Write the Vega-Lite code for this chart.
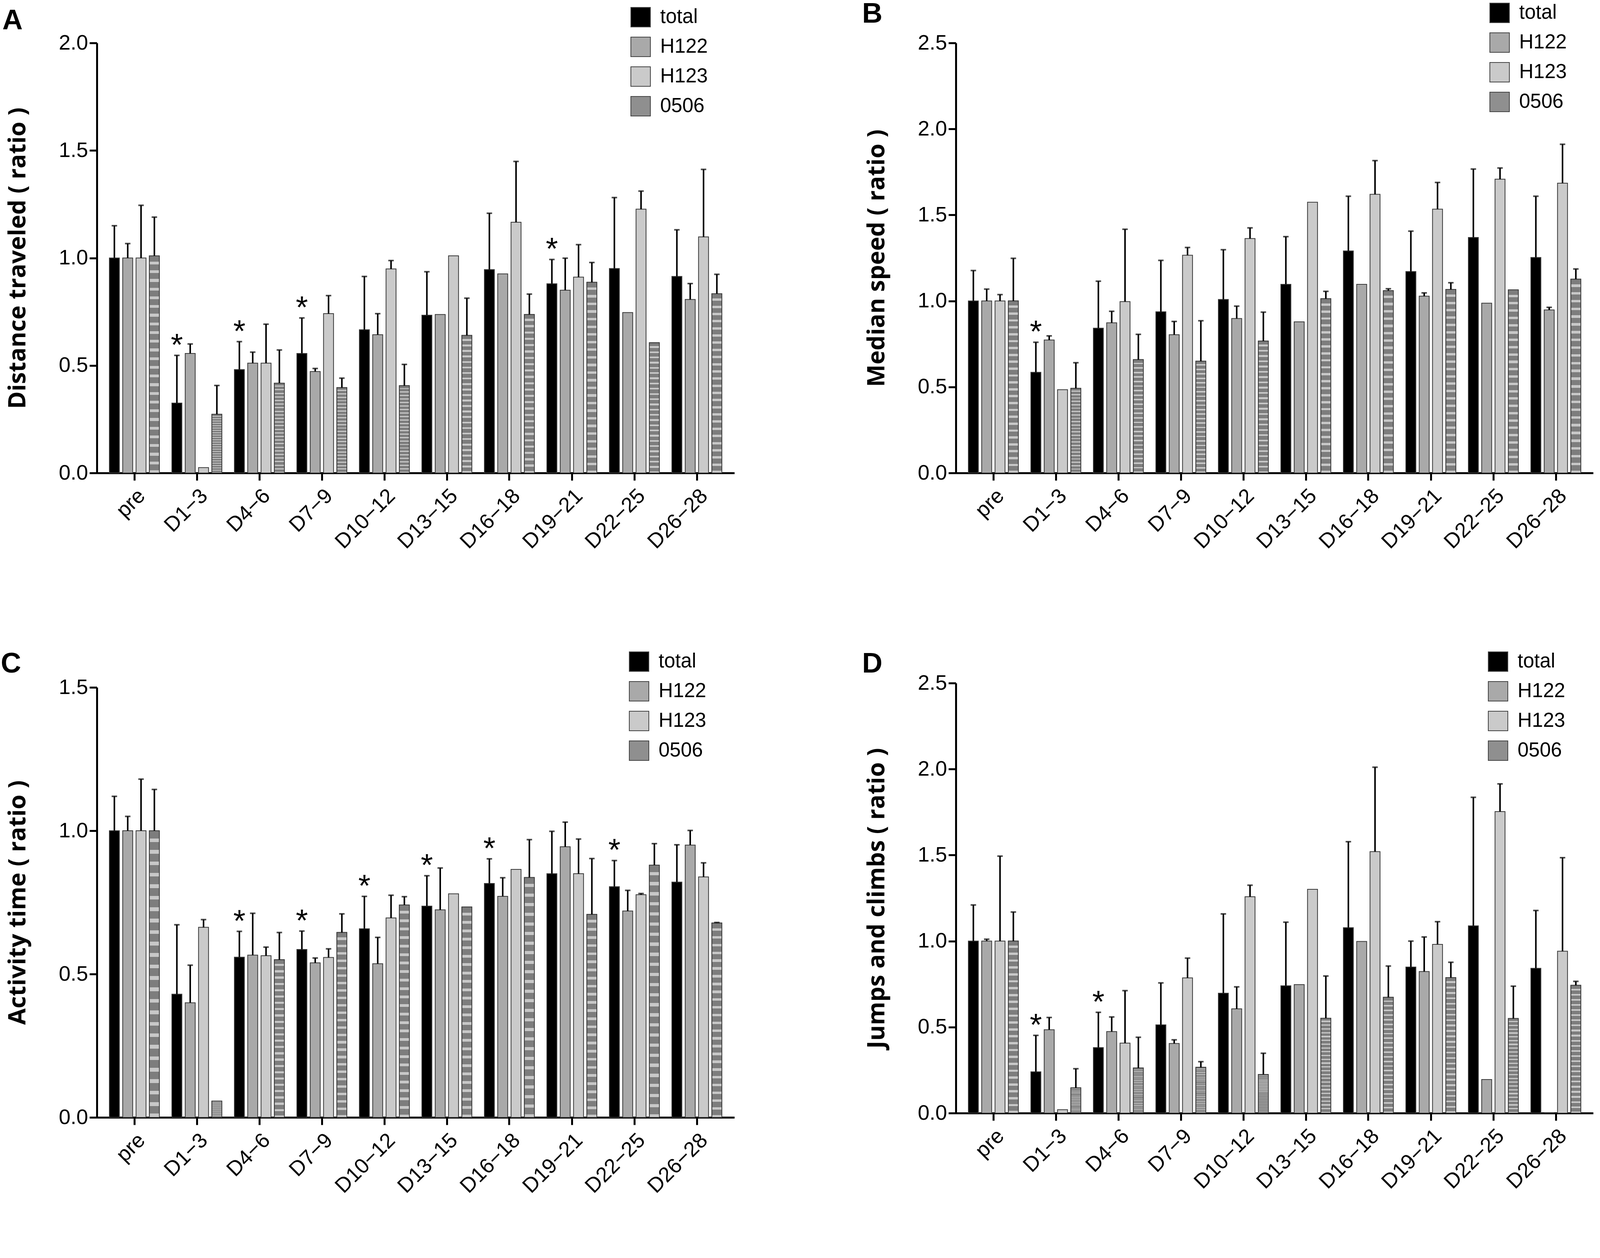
{
  "$schema": "https://vega.github.io/schema/vega-lite/v6.json",
  "background": "white",
  "padding": {"left": 2, "top": 0, "right": 0, "bottom": 0},
  "datasets": {
    "A": [
      {"period": "pre", "group": "total", "mean": 1.00, "upper": 1.15},
      {"period": "pre", "group": "H122", "mean": 1.00, "upper": 1.067},
      {"period": "pre", "group": "H123", "mean": 1.00, "upper": 1.245},
      {"period": "pre", "group": "0506", "mean": 1.01, "upper": 1.19},
      {"period": "D1−3", "group": "total", "mean": 0.325, "upper": 0.547, "sig": "*"},
      {"period": "D1−3", "group": "H122", "mean": 0.556, "upper": 0.60},
      {"period": "D1−3", "group": "H123", "mean": 0.025, "upper": null},
      {"period": "D1−3", "group": "0506", "mean": 0.273, "upper": 0.407},
      {"period": "D4−6", "group": "total", "mean": 0.481, "upper": 0.611, "sig": "*"},
      {"period": "D4−6", "group": "H122", "mean": 0.511, "upper": 0.562},
      {"period": "D4−6", "group": "H123", "mean": 0.511, "upper": 0.692},
      {"period": "D4−6", "group": "0506", "mean": 0.418, "upper": 0.572},
      {"period": "D7−9", "group": "total", "mean": 0.556, "upper": 0.721, "sig": "*"},
      {"period": "D7−9", "group": "H122", "mean": 0.472, "upper": 0.486},
      {"period": "D7−9", "group": "H123", "mean": 0.741, "upper": 0.825},
      {"period": "D7−9", "group": "0506", "mean": 0.397, "upper": 0.441},
      {"period": "D10−12", "group": "total", "mean": 0.666, "upper": 0.914},
      {"period": "D10−12", "group": "H122", "mean": 0.643, "upper": 0.741},
      {"period": "D10−12", "group": "H123", "mean": 0.949, "upper": 0.988},
      {"period": "D10−12", "group": "0506", "mean": 0.406, "upper": 0.505},
      {"period": "D13−15", "group": "total", "mean": 0.734, "upper": 0.936},
      {"period": "D13−15", "group": "H122", "mean": 0.737, "upper": null},
      {"period": "D13−15", "group": "H123", "mean": 1.010, "upper": null},
      {"period": "D13−15", "group": "0506", "mean": 0.640, "upper": 0.813},
      {"period": "D16−18", "group": "total", "mean": 0.946, "upper": 1.208},
      {"period": "D16−18", "group": "H122", "mean": 0.926, "upper": null},
      {"period": "D16−18", "group": "H123", "mean": 1.166, "upper": 1.449},
      {"period": "D16−18", "group": "0506", "mean": 0.737, "upper": 0.832},
      {"period": "D19−21", "group": "total", "mean": 0.880, "upper": 0.993, "sig": "*"},
      {"period": "D19−21", "group": "H122", "mean": 0.850, "upper": 0.999},
      {"period": "D19−21", "group": "H123", "mean": 0.911, "upper": 1.062},
      {"period": "D19−21", "group": "0506", "mean": 0.887, "upper": 0.979},
      {"period": "D22−25", "group": "total", "mean": 0.951, "upper": 1.281},
      {"period": "D22−25", "group": "H122", "mean": 0.746, "upper": null},
      {"period": "D22−25", "group": "H123", "mean": 1.227, "upper": 1.311},
      {"period": "D22−25", "group": "0506", "mean": 0.606, "upper": null},
      {"period": "D26−28", "group": "total", "mean": 0.914, "upper": 1.131},
      {"period": "D26−28", "group": "H122", "mean": 0.807, "upper": 0.881},
      {"period": "D26−28", "group": "H123", "mean": 1.098, "upper": 1.412},
      {"period": "D26−28", "group": "0506", "mean": 0.834, "upper": 0.924}
    ],
    "B": [
      {"period": "pre", "group": "total", "mean": 1.00, "upper": 1.177},
      {"period": "pre", "group": "H122", "mean": 1.00, "upper": 1.069},
      {"period": "pre", "group": "H123", "mean": 1.00, "upper": 1.037},
      {"period": "pre", "group": "0506", "mean": 1.00, "upper": 1.248},
      {"period": "D1−3", "group": "total", "mean": 0.585, "upper": 0.760, "sig": "*"},
      {"period": "D1−3", "group": "H122", "mean": 0.773, "upper": 0.797},
      {"period": "D1−3", "group": "H123", "mean": 0.484, "upper": null},
      {"period": "D1−3", "group": "0506", "mean": 0.492, "upper": 0.641},
      {"period": "D4−6", "group": "total", "mean": 0.842, "upper": 1.115},
      {"period": "D4−6", "group": "H122", "mean": 0.873, "upper": 0.940},
      {"period": "D4−6", "group": "H123", "mean": 0.996, "upper": 1.417},
      {"period": "D4−6", "group": "0506", "mean": 0.659, "upper": 0.806},
      {"period": "D7−9", "group": "total", "mean": 0.937, "upper": 1.236},
      {"period": "D7−9", "group": "H122", "mean": 0.804, "upper": 0.881},
      {"period": "D7−9", "group": "H123", "mean": 1.266, "upper": 1.311},
      {"period": "D7−9", "group": "0506", "mean": 0.650, "upper": 0.885},
      {"period": "D10−12", "group": "total", "mean": 1.009, "upper": 1.298},
      {"period": "D10−12", "group": "H122", "mean": 0.898, "upper": 0.970},
      {"period": "D10−12", "group": "H123", "mean": 1.363, "upper": 1.425},
      {"period": "D10−12", "group": "0506", "mean": 0.767, "upper": 0.935},
      {"period": "D13−15", "group": "total", "mean": 1.097, "upper": 1.374},
      {"period": "D13−15", "group": "H122", "mean": 0.879, "upper": null},
      {"period": "D13−15", "group": "H123", "mean": 1.574, "upper": null},
      {"period": "D13−15", "group": "0506", "mean": 1.013, "upper": 1.056},
      {"period": "D16−18", "group": "total", "mean": 1.291, "upper": 1.609},
      {"period": "D16−18", "group": "H122", "mean": 1.097, "upper": null},
      {"period": "D16−18", "group": "H123", "mean": 1.620, "upper": 1.816},
      {"period": "D16−18", "group": "0506", "mean": 1.060, "upper": 1.071},
      {"period": "D19−21", "group": "total", "mean": 1.171, "upper": 1.406},
      {"period": "D19−21", "group": "H122", "mean": 1.028, "upper": 1.047},
      {"period": "D19−21", "group": "H123", "mean": 1.534, "upper": 1.689},
      {"period": "D19−21", "group": "0506", "mean": 1.067, "upper": 1.106},
      {"period": "D22−25", "group": "total", "mean": 1.369, "upper": 1.767},
      {"period": "D22−25", "group": "H122", "mean": 0.987, "upper": null},
      {"period": "D22−25", "group": "H123", "mean": 1.708, "upper": 1.773},
      {"period": "D22−25", "group": "0506", "mean": 1.065, "upper": null},
      {"period": "D26−28", "group": "total", "mean": 1.253, "upper": 1.609},
      {"period": "D26−28", "group": "H122", "mean": 0.948, "upper": 0.963},
      {"period": "D26−28", "group": "H123", "mean": 1.685, "upper": 1.911},
      {"period": "D26−28", "group": "0506", "mean": 1.127, "upper": 1.186}
    ],
    "C": [
      {"period": "pre", "group": "total", "mean": 1.00, "upper": 1.12},
      {"period": "pre", "group": "H122", "mean": 1.00, "upper": 1.05},
      {"period": "pre", "group": "H123", "mean": 1.00, "upper": 1.18},
      {"period": "pre", "group": "0506", "mean": 1.00, "upper": 1.144},
      {"period": "D1−3", "group": "total", "mean": 0.430, "upper": 0.672},
      {"period": "D1−3", "group": "H122", "mean": 0.400, "upper": 0.531},
      {"period": "D1−3", "group": "H123", "mean": 0.663, "upper": 0.690},
      {"period": "D1−3", "group": "0506", "mean": 0.057, "upper": null},
      {"period": "D4−6", "group": "total", "mean": 0.559, "upper": 0.649, "sig": "*"},
      {"period": "D4−6", "group": "H122", "mean": 0.566, "upper": 0.712},
      {"period": "D4−6", "group": "H123", "mean": 0.564, "upper": 0.594},
      {"period": "D4−6", "group": "0506", "mean": 0.550, "upper": 0.645},
      {"period": "D7−9", "group": "total", "mean": 0.586, "upper": 0.650, "sig": "*"},
      {"period": "D7−9", "group": "H122", "mean": 0.539, "upper": 0.556},
      {"period": "D7−9", "group": "H123", "mean": 0.558, "upper": 0.588},
      {"period": "D7−9", "group": "0506", "mean": 0.645, "upper": 0.710},
      {"period": "D10−12", "group": "total", "mean": 0.658, "upper": 0.771, "sig": "*"},
      {"period": "D10−12", "group": "H122", "mean": 0.536, "upper": 0.628},
      {"period": "D10−12", "group": "H123", "mean": 0.696, "upper": 0.775},
      {"period": "D10−12", "group": "0506", "mean": 0.741, "upper": 0.770},
      {"period": "D13−15", "group": "total", "mean": 0.737, "upper": 0.843, "sig": "*"},
      {"period": "D13−15", "group": "H122", "mean": 0.724, "upper": 0.870},
      {"period": "D13−15", "group": "H123", "mean": 0.780, "upper": null},
      {"period": "D13−15", "group": "0506", "mean": 0.734, "upper": null},
      {"period": "D16−18", "group": "total", "mean": 0.816, "upper": 0.902, "sig": "*"},
      {"period": "D16−18", "group": "H122", "mean": 0.771, "upper": 0.836},
      {"period": "D16−18", "group": "H123", "mean": 0.865, "upper": null},
      {"period": "D16−18", "group": "0506", "mean": 0.837, "upper": 0.969},
      {"period": "D19−21", "group": "total", "mean": 0.850, "upper": 0.998},
      {"period": "D19−21", "group": "H122", "mean": 0.944, "upper": 1.030},
      {"period": "D19−21", "group": "H123", "mean": 0.850, "upper": 0.971},
      {"period": "D19−21", "group": "0506", "mean": 0.708, "upper": 0.903},
      {"period": "D22−25", "group": "total", "mean": 0.805, "upper": 0.896, "sig": "*"},
      {"period": "D22−25", "group": "H122", "mean": 0.720, "upper": 0.792},
      {"period": "D22−25", "group": "H123", "mean": 0.777, "upper": 0.781},
      {"period": "D22−25", "group": "0506", "mean": 0.880, "upper": 0.955},
      {"period": "D26−28", "group": "total", "mean": 0.821, "upper": 0.951},
      {"period": "D26−28", "group": "H122", "mean": 0.950, "upper": 1.001},
      {"period": "D26−28", "group": "H123", "mean": 0.839, "upper": 0.888},
      {"period": "D26−28", "group": "0506", "mean": 0.678, "upper": 0.680}
    ],
    "D": [
      {"period": "pre", "group": "total", "mean": 1.00, "upper": 1.21},
      {"period": "pre", "group": "H122", "mean": 1.00, "upper": 1.011},
      {"period": "pre", "group": "H123", "mean": 1.00, "upper": 1.494},
      {"period": "pre", "group": "0506", "mean": 1.00, "upper": 1.169},
      {"period": "D1−3", "group": "total", "mean": 0.240, "upper": 0.452, "sig": "*"},
      {"period": "D1−3", "group": "H122", "mean": 0.485, "upper": 0.556},
      {"period": "D1−3", "group": "H123", "mean": 0.020, "upper": null},
      {"period": "D1−3", "group": "0506", "mean": 0.147, "upper": 0.258},
      {"period": "D4−6", "group": "total", "mean": 0.381, "upper": 0.586, "sig": "*"},
      {"period": "D4−6", "group": "H122", "mean": 0.474, "upper": 0.559},
      {"period": "D4−6", "group": "H123", "mean": 0.407, "upper": 0.712},
      {"period": "D4−6", "group": "0506", "mean": 0.262, "upper": 0.441},
      {"period": "D7−9", "group": "total", "mean": 0.513, "upper": 0.757},
      {"period": "D7−9", "group": "H122", "mean": 0.405, "upper": 0.426},
      {"period": "D7−9", "group": "H123", "mean": 0.786, "upper": 0.901},
      {"period": "D7−9", "group": "0506", "mean": 0.266, "upper": 0.299},
      {"period": "D10−12", "group": "total", "mean": 0.697, "upper": 1.158},
      {"period": "D10−12", "group": "H122", "mean": 0.606, "upper": 0.734},
      {"period": "D10−12", "group": "H123", "mean": 1.258, "upper": 1.325},
      {"period": "D10−12", "group": "0506", "mean": 0.225, "upper": 0.348},
      {"period": "D13−15", "group": "total", "mean": 0.740, "upper": 1.110},
      {"period": "D13−15", "group": "H122", "mean": 0.747, "upper": null},
      {"period": "D13−15", "group": "H123", "mean": 1.301, "upper": null},
      {"period": "D13−15", "group": "0506", "mean": 0.552, "upper": 0.797},
      {"period": "D16−18", "group": "total", "mean": 1.078, "upper": 1.578},
      {"period": "D16−18", "group": "H122", "mean": 0.998, "upper": null},
      {"period": "D16−18", "group": "H123", "mean": 1.520, "upper": 2.011},
      {"period": "D16−18", "group": "0506", "mean": 0.673, "upper": 0.855},
      {"period": "D19−21", "group": "total", "mean": 0.849, "upper": 1.000},
      {"period": "D19−21", "group": "H122", "mean": 0.823, "upper": 1.024},
      {"period": "D19−21", "group": "H123", "mean": 0.981, "upper": 1.113},
      {"period": "D19−21", "group": "0506", "mean": 0.788, "upper": 0.877},
      {"period": "D22−25", "group": "total", "mean": 1.089, "upper": 1.836},
      {"period": "D22−25", "group": "H122", "mean": 0.195, "upper": null},
      {"period": "D22−25", "group": "H123", "mean": 1.753, "upper": 1.914},
      {"period": "D22−25", "group": "0506", "mean": 0.550, "upper": 0.738},
      {"period": "D26−28", "group": "total", "mean": 0.842, "upper": 1.178},
      {"period": "D26−28", "group": "H122", "mean": 0.0, "upper": null},
      {"period": "D26−28", "group": "H123", "mean": 0.941, "upper": 1.485},
      {"period": "D26−28", "group": "0506", "mean": 0.743, "upper": 0.766}
    ]
  },
  "columns": 2,
  "align": "none",
  "spacing": {"row": 248, "column": 327},
  "concat": [
    {
      "data": {"name": "A"},
      "width": 1632,
      "height": 1101,
      "title": {"text": "A", "dx": -242, "offset": -72},
      "encoding": {
        "x": {"field": "period", "type": "nominal", "sort": null, "title": null},
        "xOffset": {"field": "group", "type": "nominal", "sort": ["total", "H122", "H123", "0506"]}
      },
      "layer": [
        {
          "mark": {"type": "bar", "stroke": "#3a3a3a", "strokeWidth": 2},
          "encoding": {
            "y": {"field": "mean", "type": "quantitative", "title": "Distance traveled ( ratio )", "scale": {"domain": [0, 2]}, "axis": {"values": [0, 0.5, 1, 1.5, 2]}},
            "fill": {"field": "group", "type": "nominal", "scale": {"domain": ["total", "H122", "H123", "0506"], "range": ["#000000", "#a9a9a9", "#cacaca", "#8f8f8f"]}, "legend": {"legendX": 1366, "legendY": -92}}
          }
        },
        {
          "transform": [{"filter": "datum.group === '0506'"}],
          "mark": {"type": "bar", "stroke": "#3a3a3a", "strokeWidth": 2, "fill": {"gradient": "linear", "x1": 0, "y1": 0, "x2": 0, "y2": 1, "stops": [
            {"offset": 0, "color": "#7d7d7d"}, {"offset": 0.027, "color": "#7d7d7d"}, {"offset": 0.027, "color": "#c8c8c8"}, {"offset": 0.04, "color": "#c8c8c8"},
            {"offset": 0.04, "color": "#7d7d7d"}, {"offset": 0.067, "color": "#7d7d7d"}, {"offset": 0.067, "color": "#c8c8c8"}, {"offset": 0.08, "color": "#c8c8c8"},
            {"offset": 0.08, "color": "#7d7d7d"}, {"offset": 0.107, "color": "#7d7d7d"}, {"offset": 0.107, "color": "#c8c8c8"}, {"offset": 0.12, "color": "#c8c8c8"},
            {"offset": 0.12, "color": "#7d7d7d"}, {"offset": 0.147, "color": "#7d7d7d"}, {"offset": 0.147, "color": "#c8c8c8"}, {"offset": 0.16, "color": "#c8c8c8"},
            {"offset": 0.16, "color": "#7d7d7d"}, {"offset": 0.187, "color": "#7d7d7d"}, {"offset": 0.187, "color": "#c8c8c8"}, {"offset": 0.2, "color": "#c8c8c8"},
            {"offset": 0.2, "color": "#7d7d7d"}, {"offset": 0.227, "color": "#7d7d7d"}, {"offset": 0.227, "color": "#c8c8c8"}, {"offset": 0.24, "color": "#c8c8c8"},
            {"offset": 0.24, "color": "#7d7d7d"}, {"offset": 0.267, "color": "#7d7d7d"}, {"offset": 0.267, "color": "#c8c8c8"}, {"offset": 0.28, "color": "#c8c8c8"},
            {"offset": 0.28, "color": "#7d7d7d"}, {"offset": 0.307, "color": "#7d7d7d"}, {"offset": 0.307, "color": "#c8c8c8"}, {"offset": 0.32, "color": "#c8c8c8"},
            {"offset": 0.32, "color": "#7d7d7d"}, {"offset": 0.347, "color": "#7d7d7d"}, {"offset": 0.347, "color": "#c8c8c8"}, {"offset": 0.36, "color": "#c8c8c8"},
            {"offset": 0.36, "color": "#7d7d7d"}, {"offset": 0.387, "color": "#7d7d7d"}, {"offset": 0.387, "color": "#c8c8c8"}, {"offset": 0.4, "color": "#c8c8c8"},
            {"offset": 0.4, "color": "#7d7d7d"}, {"offset": 0.427, "color": "#7d7d7d"}, {"offset": 0.427, "color": "#c8c8c8"}, {"offset": 0.44, "color": "#c8c8c8"},
            {"offset": 0.44, "color": "#7d7d7d"}, {"offset": 0.467, "color": "#7d7d7d"}, {"offset": 0.467, "color": "#c8c8c8"}, {"offset": 0.48, "color": "#c8c8c8"},
            {"offset": 0.48, "color": "#7d7d7d"}, {"offset": 0.507, "color": "#7d7d7d"}, {"offset": 0.507, "color": "#c8c8c8"}, {"offset": 0.52, "color": "#c8c8c8"},
            {"offset": 0.52, "color": "#7d7d7d"}, {"offset": 0.547, "color": "#7d7d7d"}, {"offset": 0.547, "color": "#c8c8c8"}, {"offset": 0.56, "color": "#c8c8c8"},
            {"offset": 0.56, "color": "#7d7d7d"}, {"offset": 0.587, "color": "#7d7d7d"}, {"offset": 0.587, "color": "#c8c8c8"}, {"offset": 0.6, "color": "#c8c8c8"},
            {"offset": 0.6, "color": "#7d7d7d"}, {"offset": 0.627, "color": "#7d7d7d"}, {"offset": 0.627, "color": "#c8c8c8"}, {"offset": 0.64, "color": "#c8c8c8"},
            {"offset": 0.64, "color": "#7d7d7d"}, {"offset": 0.667, "color": "#7d7d7d"}, {"offset": 0.667, "color": "#c8c8c8"}, {"offset": 0.68, "color": "#c8c8c8"},
            {"offset": 0.68, "color": "#7d7d7d"}, {"offset": 0.707, "color": "#7d7d7d"}, {"offset": 0.707, "color": "#c8c8c8"}, {"offset": 0.72, "color": "#c8c8c8"},
            {"offset": 0.72, "color": "#7d7d7d"}, {"offset": 0.747, "color": "#7d7d7d"}, {"offset": 0.747, "color": "#c8c8c8"}, {"offset": 0.76, "color": "#c8c8c8"},
            {"offset": 0.76, "color": "#7d7d7d"}, {"offset": 0.787, "color": "#7d7d7d"}, {"offset": 0.787, "color": "#c8c8c8"}, {"offset": 0.8, "color": "#c8c8c8"},
            {"offset": 0.8, "color": "#7d7d7d"}, {"offset": 0.827, "color": "#7d7d7d"}, {"offset": 0.827, "color": "#c8c8c8"}, {"offset": 0.84, "color": "#c8c8c8"},
            {"offset": 0.84, "color": "#7d7d7d"}, {"offset": 0.867, "color": "#7d7d7d"}, {"offset": 0.867, "color": "#c8c8c8"}, {"offset": 0.88, "color": "#c8c8c8"},
            {"offset": 0.88, "color": "#7d7d7d"}, {"offset": 0.907, "color": "#7d7d7d"}, {"offset": 0.907, "color": "#c8c8c8"}, {"offset": 0.92, "color": "#c8c8c8"},
            {"offset": 0.92, "color": "#7d7d7d"}, {"offset": 0.947, "color": "#7d7d7d"}, {"offset": 0.947, "color": "#c8c8c8"}, {"offset": 0.96, "color": "#c8c8c8"},
            {"offset": 0.96, "color": "#7d7d7d"}, {"offset": 0.987, "color": "#7d7d7d"}, {"offset": 0.987, "color": "#c8c8c8"}, {"offset": 1, "color": "#c8c8c8"}
          ]}},
          "encoding": {
            "y": {"field": "mean", "type": "quantitative", "title": "Distance traveled ( ratio )", "scale": {"domain": [0, 2]}}
          }
        },
        {
          "transform": [{"filter": "isValid(datum.upper)"}],
          "mark": {"type": "rule", "color": "black", "strokeWidth": 4},
          "encoding": {
            "y": {"field": "mean", "type": "quantitative", "title": "Distance traveled ( ratio )", "scale": {"domain": [0, 2]}},
            "y2": {"field": "upper"}
          }
        },
        {
          "transform": [{"filter": "isValid(datum.upper)"}],
          "mark": {"type": "tick", "orient": "horizontal", "color": "black", "size": 14, "thickness": 4},
          "encoding": {
            "y": {"field": "upper", "type": "quantitative", "title": "Distance traveled ( ratio )", "scale": {"domain": [0, 2]}}
          }
        },
        {
          "transform": [{"filter": "datum.sig"}],
          "mark": {"type": "text", "color": "black", "fontSize": 80, "baseline": "alphabetic", "dy": 0},
          "encoding": {
            "y": {"field": "upper", "type": "quantitative", "title": "Distance traveled ( ratio )", "scale": {"domain": [0, 2]}},
            "text": {"field": "sig"}
          }
        }
      ]
    },
    {
      "data": {"name": "B"},
      "width": 1632,
      "height": 1101,
      "title": {"text": "B", "dx": -240, "offset": -66},
      "encoding": {
        "x": {"field": "period", "type": "nominal", "sort": null, "title": null},
        "xOffset": {"field": "group", "type": "nominal", "sort": ["total", "H122", "H123", "0506"]}
      },
      "layer": [
        {
          "mark": {"type": "bar", "stroke": "#3a3a3a", "strokeWidth": 2},
          "encoding": {
            "y": {"field": "mean", "type": "quantitative", "title": "Median speed ( ratio )", "scale": {"domain": [0, 2.5]}, "axis": {"values": [0, 0.5, 1, 1.5, 2, 2.5]}},
            "fill": {"field": "group", "type": "nominal", "scale": {"domain": ["total", "H122", "H123", "0506"], "range": ["#000000", "#a9a9a9", "#cacaca", "#8f8f8f"]}, "legend": {"legendX": 1366, "legendY": -103}}
          }
        },
        {
          "transform": [{"filter": "datum.group === '0506'"}],
          "mark": {"type": "bar", "stroke": "#3a3a3a", "strokeWidth": 2, "fill": {"gradient": "linear", "x1": 0, "y1": 0, "x2": 0, "y2": 1, "stops": [
            {"offset": 0, "color": "#7d7d7d"}, {"offset": 0.027, "color": "#7d7d7d"}, {"offset": 0.027, "color": "#c8c8c8"}, {"offset": 0.04, "color": "#c8c8c8"},
            {"offset": 0.04, "color": "#7d7d7d"}, {"offset": 0.067, "color": "#7d7d7d"}, {"offset": 0.067, "color": "#c8c8c8"}, {"offset": 0.08, "color": "#c8c8c8"},
            {"offset": 0.08, "color": "#7d7d7d"}, {"offset": 0.107, "color": "#7d7d7d"}, {"offset": 0.107, "color": "#c8c8c8"}, {"offset": 0.12, "color": "#c8c8c8"},
            {"offset": 0.12, "color": "#7d7d7d"}, {"offset": 0.147, "color": "#7d7d7d"}, {"offset": 0.147, "color": "#c8c8c8"}, {"offset": 0.16, "color": "#c8c8c8"},
            {"offset": 0.16, "color": "#7d7d7d"}, {"offset": 0.187, "color": "#7d7d7d"}, {"offset": 0.187, "color": "#c8c8c8"}, {"offset": 0.2, "color": "#c8c8c8"},
            {"offset": 0.2, "color": "#7d7d7d"}, {"offset": 0.227, "color": "#7d7d7d"}, {"offset": 0.227, "color": "#c8c8c8"}, {"offset": 0.24, "color": "#c8c8c8"},
            {"offset": 0.24, "color": "#7d7d7d"}, {"offset": 0.267, "color": "#7d7d7d"}, {"offset": 0.267, "color": "#c8c8c8"}, {"offset": 0.28, "color": "#c8c8c8"},
            {"offset": 0.28, "color": "#7d7d7d"}, {"offset": 0.307, "color": "#7d7d7d"}, {"offset": 0.307, "color": "#c8c8c8"}, {"offset": 0.32, "color": "#c8c8c8"},
            {"offset": 0.32, "color": "#7d7d7d"}, {"offset": 0.347, "color": "#7d7d7d"}, {"offset": 0.347, "color": "#c8c8c8"}, {"offset": 0.36, "color": "#c8c8c8"},
            {"offset": 0.36, "color": "#7d7d7d"}, {"offset": 0.387, "color": "#7d7d7d"}, {"offset": 0.387, "color": "#c8c8c8"}, {"offset": 0.4, "color": "#c8c8c8"},
            {"offset": 0.4, "color": "#7d7d7d"}, {"offset": 0.427, "color": "#7d7d7d"}, {"offset": 0.427, "color": "#c8c8c8"}, {"offset": 0.44, "color": "#c8c8c8"},
            {"offset": 0.44, "color": "#7d7d7d"}, {"offset": 0.467, "color": "#7d7d7d"}, {"offset": 0.467, "color": "#c8c8c8"}, {"offset": 0.48, "color": "#c8c8c8"},
            {"offset": 0.48, "color": "#7d7d7d"}, {"offset": 0.507, "color": "#7d7d7d"}, {"offset": 0.507, "color": "#c8c8c8"}, {"offset": 0.52, "color": "#c8c8c8"},
            {"offset": 0.52, "color": "#7d7d7d"}, {"offset": 0.547, "color": "#7d7d7d"}, {"offset": 0.547, "color": "#c8c8c8"}, {"offset": 0.56, "color": "#c8c8c8"},
            {"offset": 0.56, "color": "#7d7d7d"}, {"offset": 0.587, "color": "#7d7d7d"}, {"offset": 0.587, "color": "#c8c8c8"}, {"offset": 0.6, "color": "#c8c8c8"},
            {"offset": 0.6, "color": "#7d7d7d"}, {"offset": 0.627, "color": "#7d7d7d"}, {"offset": 0.627, "color": "#c8c8c8"}, {"offset": 0.64, "color": "#c8c8c8"},
            {"offset": 0.64, "color": "#7d7d7d"}, {"offset": 0.667, "color": "#7d7d7d"}, {"offset": 0.667, "color": "#c8c8c8"}, {"offset": 0.68, "color": "#c8c8c8"},
            {"offset": 0.68, "color": "#7d7d7d"}, {"offset": 0.707, "color": "#7d7d7d"}, {"offset": 0.707, "color": "#c8c8c8"}, {"offset": 0.72, "color": "#c8c8c8"},
            {"offset": 0.72, "color": "#7d7d7d"}, {"offset": 0.747, "color": "#7d7d7d"}, {"offset": 0.747, "color": "#c8c8c8"}, {"offset": 0.76, "color": "#c8c8c8"},
            {"offset": 0.76, "color": "#7d7d7d"}, {"offset": 0.787, "color": "#7d7d7d"}, {"offset": 0.787, "color": "#c8c8c8"}, {"offset": 0.8, "color": "#c8c8c8"},
            {"offset": 0.8, "color": "#7d7d7d"}, {"offset": 0.827, "color": "#7d7d7d"}, {"offset": 0.827, "color": "#c8c8c8"}, {"offset": 0.84, "color": "#c8c8c8"},
            {"offset": 0.84, "color": "#7d7d7d"}, {"offset": 0.867, "color": "#7d7d7d"}, {"offset": 0.867, "color": "#c8c8c8"}, {"offset": 0.88, "color": "#c8c8c8"},
            {"offset": 0.88, "color": "#7d7d7d"}, {"offset": 0.907, "color": "#7d7d7d"}, {"offset": 0.907, "color": "#c8c8c8"}, {"offset": 0.92, "color": "#c8c8c8"},
            {"offset": 0.92, "color": "#7d7d7d"}, {"offset": 0.947, "color": "#7d7d7d"}, {"offset": 0.947, "color": "#c8c8c8"}, {"offset": 0.96, "color": "#c8c8c8"},
            {"offset": 0.96, "color": "#7d7d7d"}, {"offset": 0.987, "color": "#7d7d7d"}, {"offset": 0.987, "color": "#c8c8c8"}, {"offset": 1, "color": "#c8c8c8"}
          ]}},
          "encoding": {
            "y": {"field": "mean", "type": "quantitative", "title": "Median speed ( ratio )", "scale": {"domain": [0, 2.5]}}
          }
        },
        {
          "transform": [{"filter": "isValid(datum.upper)"}],
          "mark": {"type": "rule", "color": "black", "strokeWidth": 4},
          "encoding": {
            "y": {"field": "mean", "type": "quantitative", "title": "Median speed ( ratio )", "scale": {"domain": [0, 2.5]}},
            "y2": {"field": "upper"}
          }
        },
        {
          "transform": [{"filter": "isValid(datum.upper)"}],
          "mark": {"type": "tick", "orient": "horizontal", "color": "black", "size": 14, "thickness": 4},
          "encoding": {
            "y": {"field": "upper", "type": "quantitative", "title": "Median speed ( ratio )", "scale": {"domain": [0, 2.5]}}
          }
        },
        {
          "transform": [{"filter": "datum.sig"}],
          "mark": {"type": "text", "color": "black", "fontSize": 80, "baseline": "alphabetic", "dy": 0},
          "encoding": {
            "y": {"field": "upper", "type": "quantitative", "title": "Median speed ( ratio )", "scale": {"domain": [0, 2.5]}},
            "text": {"field": "sig"}
          }
        }
      ]
    },
    {
      "data": {"name": "C"},
      "width": 1632,
      "height": 1101,
      "title": {"text": "C", "dx": -246, "offset": -69},
      "encoding": {
        "x": {"field": "period", "type": "nominal", "sort": null, "title": null},
        "xOffset": {"field": "group", "type": "nominal", "sort": ["total", "H122", "H123", "0506"]}
      },
      "layer": [
        {
          "mark": {"type": "bar", "stroke": "#3a3a3a", "strokeWidth": 2},
          "encoding": {
            "y": {"field": "mean", "type": "quantitative", "title": "Activity time ( ratio )", "scale": {"domain": [0, 1.5]}, "axis": {"values": [0, 0.5, 1, 1.5]}},
            "fill": {"field": "group", "type": "nominal", "scale": {"domain": ["total", "H122", "H123", "0506"], "range": ["#000000", "#a9a9a9", "#cacaca", "#8f8f8f"]}, "legend": {"legendX": 1362, "legendY": -92}}
          }
        },
        {
          "transform": [{"filter": "datum.group === '0506'"}],
          "mark": {"type": "bar", "stroke": "#3a3a3a", "strokeWidth": 2, "fill": {"gradient": "linear", "x1": 0, "y1": 0, "x2": 0, "y2": 1, "stops": [
            {"offset": 0, "color": "#7d7d7d"}, {"offset": 0.027, "color": "#7d7d7d"}, {"offset": 0.027, "color": "#c8c8c8"}, {"offset": 0.04, "color": "#c8c8c8"},
            {"offset": 0.04, "color": "#7d7d7d"}, {"offset": 0.067, "color": "#7d7d7d"}, {"offset": 0.067, "color": "#c8c8c8"}, {"offset": 0.08, "color": "#c8c8c8"},
            {"offset": 0.08, "color": "#7d7d7d"}, {"offset": 0.107, "color": "#7d7d7d"}, {"offset": 0.107, "color": "#c8c8c8"}, {"offset": 0.12, "color": "#c8c8c8"},
            {"offset": 0.12, "color": "#7d7d7d"}, {"offset": 0.147, "color": "#7d7d7d"}, {"offset": 0.147, "color": "#c8c8c8"}, {"offset": 0.16, "color": "#c8c8c8"},
            {"offset": 0.16, "color": "#7d7d7d"}, {"offset": 0.187, "color": "#7d7d7d"}, {"offset": 0.187, "color": "#c8c8c8"}, {"offset": 0.2, "color": "#c8c8c8"},
            {"offset": 0.2, "color": "#7d7d7d"}, {"offset": 0.227, "color": "#7d7d7d"}, {"offset": 0.227, "color": "#c8c8c8"}, {"offset": 0.24, "color": "#c8c8c8"},
            {"offset": 0.24, "color": "#7d7d7d"}, {"offset": 0.267, "color": "#7d7d7d"}, {"offset": 0.267, "color": "#c8c8c8"}, {"offset": 0.28, "color": "#c8c8c8"},
            {"offset": 0.28, "color": "#7d7d7d"}, {"offset": 0.307, "color": "#7d7d7d"}, {"offset": 0.307, "color": "#c8c8c8"}, {"offset": 0.32, "color": "#c8c8c8"},
            {"offset": 0.32, "color": "#7d7d7d"}, {"offset": 0.347, "color": "#7d7d7d"}, {"offset": 0.347, "color": "#c8c8c8"}, {"offset": 0.36, "color": "#c8c8c8"},
            {"offset": 0.36, "color": "#7d7d7d"}, {"offset": 0.387, "color": "#7d7d7d"}, {"offset": 0.387, "color": "#c8c8c8"}, {"offset": 0.4, "color": "#c8c8c8"},
            {"offset": 0.4, "color": "#7d7d7d"}, {"offset": 0.427, "color": "#7d7d7d"}, {"offset": 0.427, "color": "#c8c8c8"}, {"offset": 0.44, "color": "#c8c8c8"},
            {"offset": 0.44, "color": "#7d7d7d"}, {"offset": 0.467, "color": "#7d7d7d"}, {"offset": 0.467, "color": "#c8c8c8"}, {"offset": 0.48, "color": "#c8c8c8"},
            {"offset": 0.48, "color": "#7d7d7d"}, {"offset": 0.507, "color": "#7d7d7d"}, {"offset": 0.507, "color": "#c8c8c8"}, {"offset": 0.52, "color": "#c8c8c8"},
            {"offset": 0.52, "color": "#7d7d7d"}, {"offset": 0.547, "color": "#7d7d7d"}, {"offset": 0.547, "color": "#c8c8c8"}, {"offset": 0.56, "color": "#c8c8c8"},
            {"offset": 0.56, "color": "#7d7d7d"}, {"offset": 0.587, "color": "#7d7d7d"}, {"offset": 0.587, "color": "#c8c8c8"}, {"offset": 0.6, "color": "#c8c8c8"},
            {"offset": 0.6, "color": "#7d7d7d"}, {"offset": 0.627, "color": "#7d7d7d"}, {"offset": 0.627, "color": "#c8c8c8"}, {"offset": 0.64, "color": "#c8c8c8"},
            {"offset": 0.64, "color": "#7d7d7d"}, {"offset": 0.667, "color": "#7d7d7d"}, {"offset": 0.667, "color": "#c8c8c8"}, {"offset": 0.68, "color": "#c8c8c8"},
            {"offset": 0.68, "color": "#7d7d7d"}, {"offset": 0.707, "color": "#7d7d7d"}, {"offset": 0.707, "color": "#c8c8c8"}, {"offset": 0.72, "color": "#c8c8c8"},
            {"offset": 0.72, "color": "#7d7d7d"}, {"offset": 0.747, "color": "#7d7d7d"}, {"offset": 0.747, "color": "#c8c8c8"}, {"offset": 0.76, "color": "#c8c8c8"},
            {"offset": 0.76, "color": "#7d7d7d"}, {"offset": 0.787, "color": "#7d7d7d"}, {"offset": 0.787, "color": "#c8c8c8"}, {"offset": 0.8, "color": "#c8c8c8"},
            {"offset": 0.8, "color": "#7d7d7d"}, {"offset": 0.827, "color": "#7d7d7d"}, {"offset": 0.827, "color": "#c8c8c8"}, {"offset": 0.84, "color": "#c8c8c8"},
            {"offset": 0.84, "color": "#7d7d7d"}, {"offset": 0.867, "color": "#7d7d7d"}, {"offset": 0.867, "color": "#c8c8c8"}, {"offset": 0.88, "color": "#c8c8c8"},
            {"offset": 0.88, "color": "#7d7d7d"}, {"offset": 0.907, "color": "#7d7d7d"}, {"offset": 0.907, "color": "#c8c8c8"}, {"offset": 0.92, "color": "#c8c8c8"},
            {"offset": 0.92, "color": "#7d7d7d"}, {"offset": 0.947, "color": "#7d7d7d"}, {"offset": 0.947, "color": "#c8c8c8"}, {"offset": 0.96, "color": "#c8c8c8"},
            {"offset": 0.96, "color": "#7d7d7d"}, {"offset": 0.987, "color": "#7d7d7d"}, {"offset": 0.987, "color": "#c8c8c8"}, {"offset": 1, "color": "#c8c8c8"}
          ]}},
          "encoding": {
            "y": {"field": "mean", "type": "quantitative", "title": "Activity time ( ratio )", "scale": {"domain": [0, 1.5]}}
          }
        },
        {
          "transform": [{"filter": "isValid(datum.upper)"}],
          "mark": {"type": "rule", "color": "black", "strokeWidth": 4},
          "encoding": {
            "y": {"field": "mean", "type": "quantitative", "title": "Activity time ( ratio )", "scale": {"domain": [0, 1.5]}},
            "y2": {"field": "upper"}
          }
        },
        {
          "transform": [{"filter": "isValid(datum.upper)"}],
          "mark": {"type": "tick", "orient": "horizontal", "color": "black", "size": 14, "thickness": 4},
          "encoding": {
            "y": {"field": "upper", "type": "quantitative", "title": "Activity time ( ratio )", "scale": {"domain": [0, 1.5]}}
          }
        },
        {
          "transform": [{"filter": "datum.sig"}],
          "mark": {"type": "text", "color": "black", "fontSize": 80, "baseline": "alphabetic", "dy": 0},
          "encoding": {
            "y": {"field": "upper", "type": "quantitative", "title": "Activity time ( ratio )", "scale": {"domain": [0, 1.5]}},
            "text": {"field": "sig"}
          }
        }
      ]
    },
    {
      "data": {"name": "D"},
      "width": 1632,
      "height": 1101,
      "title": {"text": "D", "dx": -240, "offset": -69},
      "encoding": {
        "x": {"field": "period", "type": "nominal", "sort": null, "title": null},
        "xOffset": {"field": "group", "type": "nominal", "sort": ["total", "H122", "H123", "0506"]}
      },
      "layer": [
        {
          "mark": {"type": "bar", "stroke": "#3a3a3a", "strokeWidth": 2},
          "encoding": {
            "y": {"field": "mean", "type": "quantitative", "title": "Jumps and climbs ( ratio )", "scale": {"domain": [0, 2.5]}, "axis": {"values": [0, 0.5, 1, 1.5, 2, 2.5]}},
            "fill": {"field": "group", "type": "nominal", "scale": {"domain": ["total", "H122", "H123", "0506"], "range": ["#000000", "#a9a9a9", "#cacaca", "#8f8f8f"]}, "legend": {"legendX": 1362, "legendY": -81}}
          }
        },
        {
          "transform": [{"filter": "datum.group === '0506'"}],
          "mark": {"type": "bar", "stroke": "#3a3a3a", "strokeWidth": 2, "fill": {"gradient": "linear", "x1": 0, "y1": 0, "x2": 0, "y2": 1, "stops": [
            {"offset": 0, "color": "#7d7d7d"}, {"offset": 0.027, "color": "#7d7d7d"}, {"offset": 0.027, "color": "#c8c8c8"}, {"offset": 0.04, "color": "#c8c8c8"},
            {"offset": 0.04, "color": "#7d7d7d"}, {"offset": 0.067, "color": "#7d7d7d"}, {"offset": 0.067, "color": "#c8c8c8"}, {"offset": 0.08, "color": "#c8c8c8"},
            {"offset": 0.08, "color": "#7d7d7d"}, {"offset": 0.107, "color": "#7d7d7d"}, {"offset": 0.107, "color": "#c8c8c8"}, {"offset": 0.12, "color": "#c8c8c8"},
            {"offset": 0.12, "color": "#7d7d7d"}, {"offset": 0.147, "color": "#7d7d7d"}, {"offset": 0.147, "color": "#c8c8c8"}, {"offset": 0.16, "color": "#c8c8c8"},
            {"offset": 0.16, "color": "#7d7d7d"}, {"offset": 0.187, "color": "#7d7d7d"}, {"offset": 0.187, "color": "#c8c8c8"}, {"offset": 0.2, "color": "#c8c8c8"},
            {"offset": 0.2, "color": "#7d7d7d"}, {"offset": 0.227, "color": "#7d7d7d"}, {"offset": 0.227, "color": "#c8c8c8"}, {"offset": 0.24, "color": "#c8c8c8"},
            {"offset": 0.24, "color": "#7d7d7d"}, {"offset": 0.267, "color": "#7d7d7d"}, {"offset": 0.267, "color": "#c8c8c8"}, {"offset": 0.28, "color": "#c8c8c8"},
            {"offset": 0.28, "color": "#7d7d7d"}, {"offset": 0.307, "color": "#7d7d7d"}, {"offset": 0.307, "color": "#c8c8c8"}, {"offset": 0.32, "color": "#c8c8c8"},
            {"offset": 0.32, "color": "#7d7d7d"}, {"offset": 0.347, "color": "#7d7d7d"}, {"offset": 0.347, "color": "#c8c8c8"}, {"offset": 0.36, "color": "#c8c8c8"},
            {"offset": 0.36, "color": "#7d7d7d"}, {"offset": 0.387, "color": "#7d7d7d"}, {"offset": 0.387, "color": "#c8c8c8"}, {"offset": 0.4, "color": "#c8c8c8"},
            {"offset": 0.4, "color": "#7d7d7d"}, {"offset": 0.427, "color": "#7d7d7d"}, {"offset": 0.427, "color": "#c8c8c8"}, {"offset": 0.44, "color": "#c8c8c8"},
            {"offset": 0.44, "color": "#7d7d7d"}, {"offset": 0.467, "color": "#7d7d7d"}, {"offset": 0.467, "color": "#c8c8c8"}, {"offset": 0.48, "color": "#c8c8c8"},
            {"offset": 0.48, "color": "#7d7d7d"}, {"offset": 0.507, "color": "#7d7d7d"}, {"offset": 0.507, "color": "#c8c8c8"}, {"offset": 0.52, "color": "#c8c8c8"},
            {"offset": 0.52, "color": "#7d7d7d"}, {"offset": 0.547, "color": "#7d7d7d"}, {"offset": 0.547, "color": "#c8c8c8"}, {"offset": 0.56, "color": "#c8c8c8"},
            {"offset": 0.56, "color": "#7d7d7d"}, {"offset": 0.587, "color": "#7d7d7d"}, {"offset": 0.587, "color": "#c8c8c8"}, {"offset": 0.6, "color": "#c8c8c8"},
            {"offset": 0.6, "color": "#7d7d7d"}, {"offset": 0.627, "color": "#7d7d7d"}, {"offset": 0.627, "color": "#c8c8c8"}, {"offset": 0.64, "color": "#c8c8c8"},
            {"offset": 0.64, "color": "#7d7d7d"}, {"offset": 0.667, "color": "#7d7d7d"}, {"offset": 0.667, "color": "#c8c8c8"}, {"offset": 0.68, "color": "#c8c8c8"},
            {"offset": 0.68, "color": "#7d7d7d"}, {"offset": 0.707, "color": "#7d7d7d"}, {"offset": 0.707, "color": "#c8c8c8"}, {"offset": 0.72, "color": "#c8c8c8"},
            {"offset": 0.72, "color": "#7d7d7d"}, {"offset": 0.747, "color": "#7d7d7d"}, {"offset": 0.747, "color": "#c8c8c8"}, {"offset": 0.76, "color": "#c8c8c8"},
            {"offset": 0.76, "color": "#7d7d7d"}, {"offset": 0.787, "color": "#7d7d7d"}, {"offset": 0.787, "color": "#c8c8c8"}, {"offset": 0.8, "color": "#c8c8c8"},
            {"offset": 0.8, "color": "#7d7d7d"}, {"offset": 0.827, "color": "#7d7d7d"}, {"offset": 0.827, "color": "#c8c8c8"}, {"offset": 0.84, "color": "#c8c8c8"},
            {"offset": 0.84, "color": "#7d7d7d"}, {"offset": 0.867, "color": "#7d7d7d"}, {"offset": 0.867, "color": "#c8c8c8"}, {"offset": 0.88, "color": "#c8c8c8"},
            {"offset": 0.88, "color": "#7d7d7d"}, {"offset": 0.907, "color": "#7d7d7d"}, {"offset": 0.907, "color": "#c8c8c8"}, {"offset": 0.92, "color": "#c8c8c8"},
            {"offset": 0.92, "color": "#7d7d7d"}, {"offset": 0.947, "color": "#7d7d7d"}, {"offset": 0.947, "color": "#c8c8c8"}, {"offset": 0.96, "color": "#c8c8c8"},
            {"offset": 0.96, "color": "#7d7d7d"}, {"offset": 0.987, "color": "#7d7d7d"}, {"offset": 0.987, "color": "#c8c8c8"}, {"offset": 1, "color": "#c8c8c8"}
          ]}},
          "encoding": {
            "y": {"field": "mean", "type": "quantitative", "title": "Jumps and climbs ( ratio )", "scale": {"domain": [0, 2.5]}}
          }
        },
        {
          "transform": [{"filter": "isValid(datum.upper)"}],
          "mark": {"type": "rule", "color": "black", "strokeWidth": 4},
          "encoding": {
            "y": {"field": "mean", "type": "quantitative", "title": "Jumps and climbs ( ratio )", "scale": {"domain": [0, 2.5]}},
            "y2": {"field": "upper"}
          }
        },
        {
          "transform": [{"filter": "isValid(datum.upper)"}],
          "mark": {"type": "tick", "orient": "horizontal", "color": "black", "size": 14, "thickness": 4},
          "encoding": {
            "y": {"field": "upper", "type": "quantitative", "title": "Jumps and climbs ( ratio )", "scale": {"domain": [0, 2.5]}}
          }
        },
        {
          "transform": [{"filter": "datum.sig"}],
          "mark": {"type": "text", "color": "black", "fontSize": 80, "baseline": "alphabetic", "dy": 0},
          "encoding": {
            "y": {"field": "upper", "type": "quantitative", "title": "Jumps and climbs ( ratio )", "scale": {"domain": [0, 2.5]}},
            "text": {"field": "sig"}
          }
        }
      ]
    }
  ],
  "resolve": {"scale": {"fill": "independent"}},
  "config": {
    "font": "Liberation Sans",
    "view": {"stroke": null},
    "scale": {"bandPaddingInner": 0.19, "bandPaddingOuter": 0.07, "offsetBandPaddingInner": 0.25, "offsetBandPaddingOuter": 0},
    "axis": {
      "domainColor": "black", "domainWidth": 5, "tickColor": "black", "tickWidth": 5, "tickSize": 19,
      "labelFont": "Liberation Sans", "labelFontSize": 54, "labelColor": "black", "labelLimit": 1000, "labelPadding": 4,
      "titleFont": "Open Sans", "titleFontSize": 61, "titleFontWeight": "bold", "titleColor": "black", "titleLimit": 3000,
      "grid": false
    },
    "axisX": {"labelAngle": -45, "labelPadding": 12},
    "axisY": {"format": ".1f", "titlePadding": 72},
    "legend": {
      "orient": "none", "title": null, "padding": 0, "symbolType": "square", "symbolSize": 2500,
      "symbolStrokeColor": "#444", "symbolStrokeWidth": 2, "labelFont": "Liberation Sans", "labelFontSize": 51,
      "labelColor": "black", "labelOffset": 24, "rowPadding": 18, "labelLimit": 600
    },
    "title": {"anchor": "start", "frame": "group", "fontSize": 72, "fontWeight": "bold", "font": "Liberation Sans", "color": "black"}
  }
}
